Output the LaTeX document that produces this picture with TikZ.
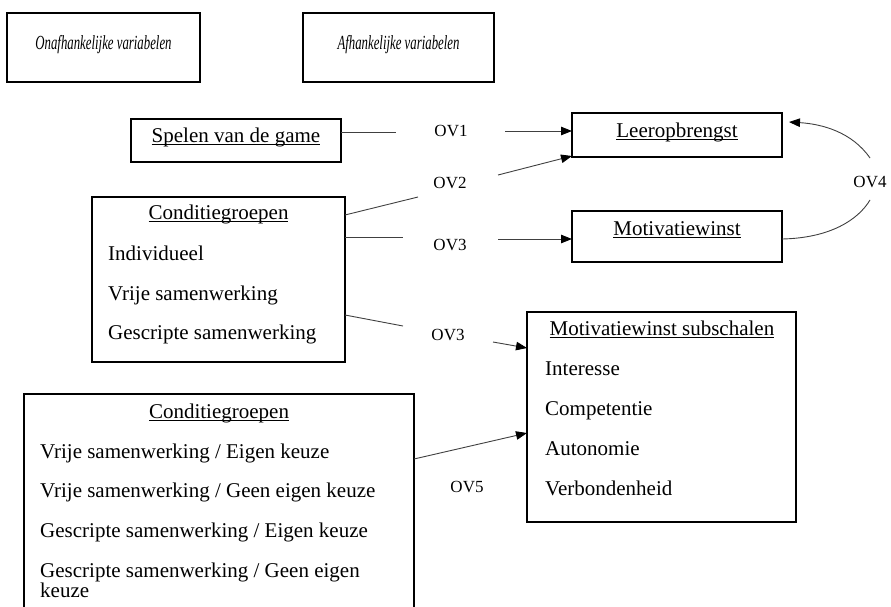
\documentclass[tikz,border=0pt]{standalone}
\usepackage{fontspec}
\setmainfont{Liberation Serif}
\newfontfamily\hdrfont[FakeStretch=0.64]{Liberation Serif}
\usetikzlibrary{arrows.meta}
\newcommand{\myul}[1]{\setbox0=\hbox{#1}\rlap{\rule[-2.6pt]{\wd0}{0.9pt}}\box0}
\begin{document}
\begin{tikzpicture}[x=1pt,y=-1pt,
  box/.style={draw=black,line width=1.4pt,inner sep=0pt},
  hdr/.style={font=\hdrfont\itshape\fontsize{20}{22}\selectfont,inner sep=0pt,text height=14pt,text depth=5pt},
  txt/.style={font=\fontsize{21}{25}\selectfont,inner sep=0pt,text height=15pt,text depth=5pt},
  lft/.style={txt,anchor=west},
  ov/.style={font=\fontsize{17}{20}\selectfont,inner sep=0pt},
  con/.style={draw=black!75,line width=0.9pt},
  arr/.style={con,-{Triangle[length=11pt,width=8.5pt,color=black]}}]
\useasboundingbox (0,0) rectangle (891,606);
\clip (0,0) rectangle (891,606);
% headers
\node[box,minimum width=193pt,minimum height=69pt] (hb1) at (103.5,47.5) {};
\node[hdr] (ht1) at (103.5,45) {Onafhankelijke variabelen};
\node[box,minimum width=191pt,minimum height=69pt] (hb2) at (398.5,47.5) {};
\node[hdr] (ht2) at (398.5,45) {Afhankelijke variabelen};
% Spelen van de game
\node[box,minimum width=210pt,minimum height=43pt] (sp) at (236,140.5) {};
\node[txt] (spt) at (236,137) {\myul{Spelen van de game}};
% Leeropbrengst
\node[box,minimum width=210pt,minimum height=44pt] (le) at (677,135) {};
\node[txt] (let) at (677,132) {\myul{Leeropbrengst}};
% Motivatiewinst
\node[box,minimum width=210pt,minimum height=51pt] (mo) at (677,236.5) {};
\node[txt] (mot) at (677,230) {\myul{Motivatiewinst}};
% Conditiegroepen 1
\node[box,minimum width=253pt,minimum height=165pt] (c1) at (218.5,279.5) {};
\node[txt] (c1t) at (218.5,214) {\myul{Conditiegroepen}};
\node[lft] (c1a) at (108,255) {Individueel};
\node[lft] (c1b) at (108,295) {Vrije samenwerking};
\node[lft] (c1c) at (108,334) {Gescripte samenwerking};
% Motivatiewinst subschalen
\node[box,minimum width=269pt,minimum height=210pt] (ms) at (661.5,417) {};
\node[txt] (mst) at (662,330) {\myul{Motivatiewinst subschalen}};
\node[lft] (msa) at (545,370) {Interesse};
\node[lft] (msb) at (545,410) {Competentie};
\node[lft] (msc) at (545,450) {Autonomie};
\node[lft] (msd) at (545,490) {Verbondenheid};
% Conditiegroepen 2
\node[box,minimum width=390pt,minimum height=246pt] (c2) at (219,517) {};
\node[txt] (c2t) at (219,413) {\myul{Conditiegroepen}};
\node[lft] (c2a) at (40,453) {Vrije samenwerking / Eigen keuze};
\node[lft] (c2b) at (40,492) {Vrije samenwerking / Geen eigen keuze};
\node[lft] (c2c) at (40,532) {Gescripte samenwerking / Eigen keuze};
\node[lft] (c2d) at (40,572) {Gescripte samenwerking / Geen eigen};
\node[lft] (c2e) at (40,592) {keuze};
% OV labels
\node[ov] (ov1) at (451,131) {OV1};
\node[ov] (ov2) at (450,183) {OV2};
\node[ov] (ov3) at (450,245) {OV3};
\node[ov] (ov3b) at (448,335) {OV3};
\node[ov] (ov4) at (870,182) {OV4};
\node[ov] (ov5) at (467,487) {OV5};
% connector points
\coordinate (s1) at (341,132);
\coordinate (e1) at (396,132);
\coordinate (a1) at (505,131);
\coordinate (t1) at (572,131);
\coordinate (s2) at (345,215);
\coordinate (e2) at (418,197);
\coordinate (a2) at (498,175);
\coordinate (t2) at (572,156);
\coordinate (s3) at (345,237);
\coordinate (e3) at (403,237);
\coordinate (a3) at (498,239);
\coordinate (t3) at (572,239);
\coordinate (s4) at (345,315);
\coordinate (e4) at (403,326);
\coordinate (a4) at (493,342);
\coordinate (t4) at (527,348);
\coordinate (s5) at (414,459);
\coordinate (t5) at (527,433);
\coordinate (s6) at (782,239);
\coordinate (e6) at (870,200);
\coordinate (a6) at (870,158);
\coordinate (t6) at (789,122);
% connectors
\draw[con] (s1) -- (e1);
\draw[arr] (a1) -- (t1);
\draw[con] (s2) -- (e2);
\draw[arr] (a2) -- (t2);
\draw[con] (s3) -- (e3);
\draw[arr] (a3) -- (t3);
\draw[con] (s4) -- (e4);
\draw[arr] (a4) -- (t4);
\draw[arr] (s5) -- (t5);
\draw[con] (s6) .. controls (830,238) and (858,220) .. (e6);
\draw[arr] (a6) .. controls (852,132) and (822,124) .. (t6);
\end{tikzpicture}
\end{document}
